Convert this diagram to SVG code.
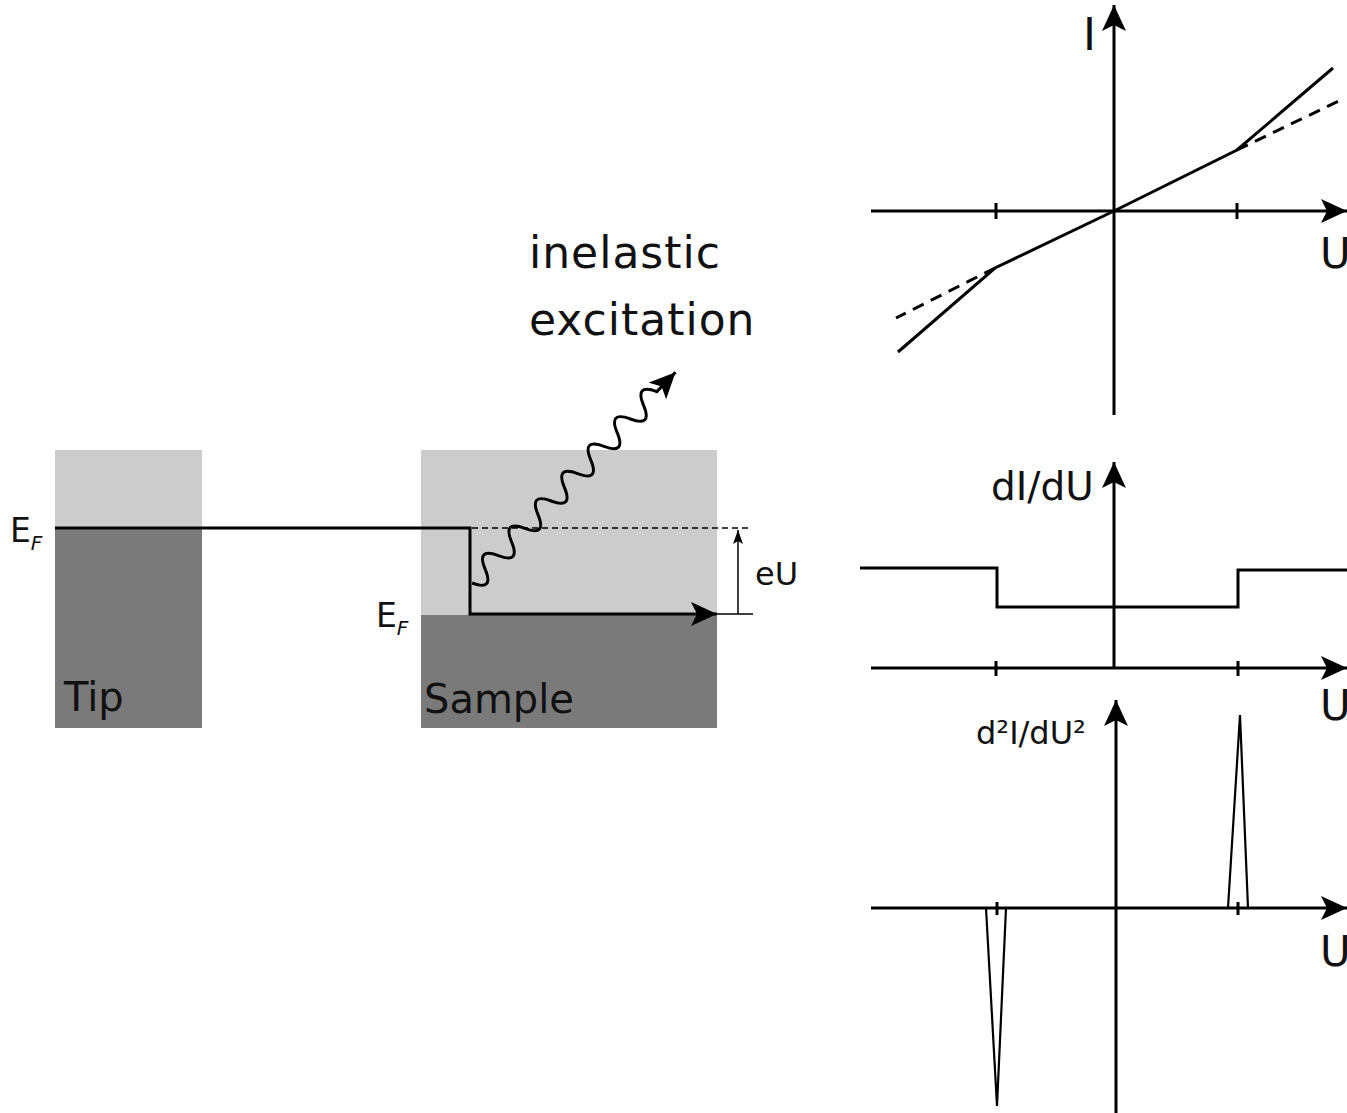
<svg xmlns="http://www.w3.org/2000/svg" width="1347" height="1113" viewBox="0 0 1347 1113">
<style>
text{font-family:"DejaVu Sans","Liberation Sans",sans-serif;fill:#111}
.ln{fill:none;stroke:#000;stroke-width:3;stroke-linejoin:miter}
.thin{fill:none;stroke:#000;stroke-width:1.5}
.light{fill:#cccccc}
.dark{fill:#7a7a7a}
</style>
<defs>
<marker id="ah" markerUnits="userSpaceOnUse" markerWidth="30" markerHeight="26" refX="26" refY="12" orient="auto" viewBox="0 0 30 26">
<path d="M26,12 L0,0 L6,12 L0,24 Z" fill="#000"/>
</marker>
<marker id="ahs" markerUnits="userSpaceOnUse" markerWidth="16" markerHeight="12" refX="14" refY="5" orient="auto" viewBox="0 0 16 12">
<path d="M14,5 L0,0 L3,5 L0,10 Z" fill="#000"/>
</marker>
</defs>
<g id="tip">
<rect class="light" x="55" y="450" width="147" height="78"/>
<rect class="dark" x="55" y="528" width="147" height="200"/>
<text x="64" y="711" font-size="40">Tip</text>
</g>
<g id="sample">
<rect class="light" x="421" y="450" width="296" height="165"/>
<rect class="dark" x="421" y="615" width="296" height="113"/>
<text x="424" y="713" font-size="40">Sample</text>
</g>
<g id="labels">
<text x="10" y="542" font-size="33">E<tspan font-size="20" font-style="italic" dy="8">F</tspan></text>
<text x="376" y="627" font-size="33">E<tspan font-size="20" font-style="italic" dy="8">F</tspan></text>
<text x="755" y="585" font-size="32">eU</text>
<text x="529" y="268" font-size="44" letter-spacing="1">inelastic</text>
<text x="529" y="335" font-size="44" letter-spacing="1">excitation</text>
</g>
<g id="connectors">
<path class="ln" d="M55,528 H470 V614 H717" marker-end="url(#ah)"/>
<line x1="472" y1="528" x2="752" y2="528" stroke="#000" stroke-width="1.5" stroke-dasharray="6,4"/>
<line class="thin" x1="717" y1="614" x2="753" y2="614"/>
<line class="thin" x1="738" y1="614" x2="738" y2="530" marker-end="url(#ahs)"/>
<g transform="translate(472,583) rotate(-46)">
<path class="ln" d="M0,0 Q9.5,22 19,0 T38,0 T57,0 T76,0 T95,0 T114,0 T133,0 T152,0 T171,0 T190,0 T209,0 T228,0 T247,0 T266,0 L293,0" marker-end="url(#ah)"/>
</g>
</g>
<g id="iv-plot">
<line class="ln" x1="1114" y1="415" x2="1114" y2="5" marker-end="url(#ah)"/>
<line class="ln" x1="871" y1="211" x2="1347" y2="211" marker-end="url(#ah)"/>
<line class="ln" x1="996" y1="203" x2="996" y2="219"/>
<line class="ln" x1="1237" y1="203" x2="1237" y2="219"/>
<polyline class="ln" points="898,352 995,268 1114,211 1237,150 1333,68"/>
<line class="ln" x1="995" y1="268" x2="896" y2="318" stroke-dasharray="12,8"/>
<line class="ln" x1="1237" y1="150" x2="1345" y2="98" stroke-dasharray="12,8"/>
<text x="1083" y="50" font-size="44">I</text>
<text x="1320" y="268" font-size="42">U</text>
</g>
<g id="didu-plot">
<line class="ln" x1="1114" y1="668" x2="1114" y2="462" marker-end="url(#ah)"/>
<line class="ln" x1="871" y1="668" x2="1347" y2="668" marker-end="url(#ah)"/>
<line class="ln" x1="996" y1="661" x2="996" y2="676"/>
<line class="ln" x1="1238" y1="661" x2="1238" y2="676"/>
<polyline class="ln" points="860,568 997,568 997,607 1238,607 1238,570 1347,570"/>
<text x="991" y="500" font-size="39">dI/dU</text>
<text x="1320" y="720" font-size="42">U</text>
</g>
<g id="d2idu2-plot">
<line class="ln" x1="1116" y1="1113" x2="1116" y2="700" marker-end="url(#ah)"/>
<line class="ln" x1="871" y1="908" x2="1347" y2="908" marker-end="url(#ah)"/>
<line class="ln" x1="997" y1="902" x2="997" y2="915"/>
<line class="ln" x1="1238" y1="902" x2="1238" y2="915"/>
<polyline fill="none" stroke="#000" stroke-width="2.2" points="1228,908 1240,715 1248,908"/>
<polyline fill="none" stroke="#000" stroke-width="2.2" points="986,908 997,1106 1006,908"/>
<text x="976" y="744" font-size="32">d²I/dU²</text>
<text x="1320" y="966" font-size="42">U</text>
</g>
</svg>
